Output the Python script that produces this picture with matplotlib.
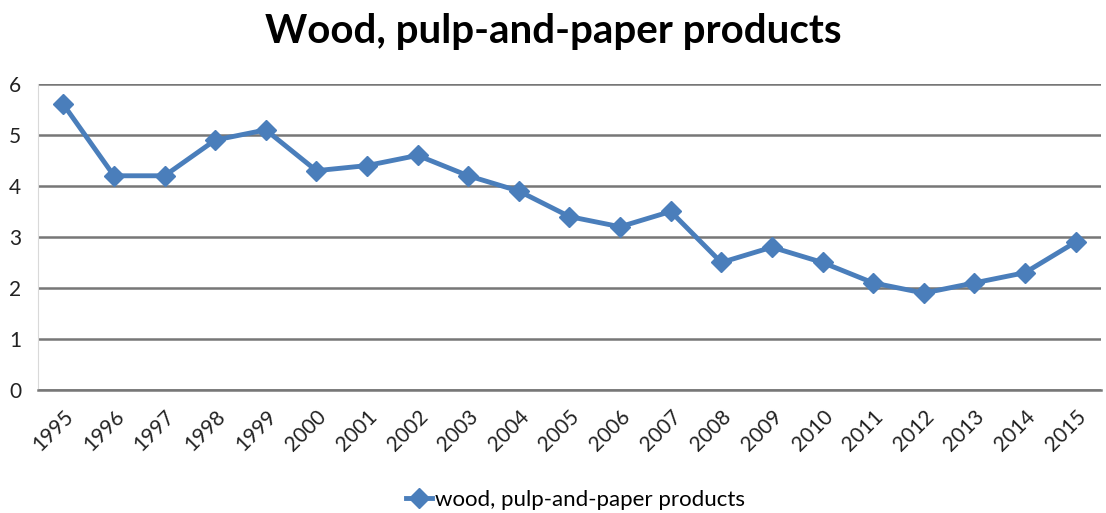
import matplotlib.pyplot as plt

years = [str(y) for y in range(1995, 2016)]
values = [5.6, 4.2, 4.2, 4.9, 5.1, 4.3, 4.4, 4.6, 4.2, 3.9, 3.4, 3.2, 3.5,
          2.5, 2.8, 2.5, 2.1, 1.9, 2.1, 2.3, 2.9]

plt.rcParams['font.family'] = ['Lato', 'DejaVu Sans']

fig = plt.figure(figsize=(11.06, 5.13), dpi=100)
ax = fig.add_axes([0.0344, 0.2398, 0.961, 0.5965])

x = range(len(years))
ax.plot(x, values, color='#4A7EBB', linewidth=3.5, marker='D', markersize=10,
        label='wood, pulp-and-paper products')

ax.set_xlim(-0.5, len(years) - 0.5)
ax.set_ylim(0, 6)
ax.set_yticks(range(0, 7))
ax.set_xticks(list(x))
ax.set_xticklabels(years, rotation=45, ha='right', rotation_mode='anchor')
ax.tick_params(axis='both', length=0, labelsize=15, colors='#222222')
ax.tick_params(axis='x', pad=12)
ax.tick_params(axis='y', pad=12)

ax.grid(axis='y', color='#777777', linewidth=1.8)
ax.set_axisbelow(True)
for s in ['top', 'right']:
    ax.spines[s].set_visible(False)
ax.spines['left'].set_color('#d9d9d9')
ax.spines['bottom'].set_color('#777777')
ax.spines['bottom'].set_linewidth(1.8)

fig.suptitle('Wood, pulp-and-paper products', fontsize=29, fontweight='bold', y=0.975)
fig.legend(loc='center', bbox_to_anchor=(0.52, 0.025), frameon=False, fontsize=16,
           handlelength=1.2, handletextpad=0.1)

fig.savefig('out.png', dpi=100)
